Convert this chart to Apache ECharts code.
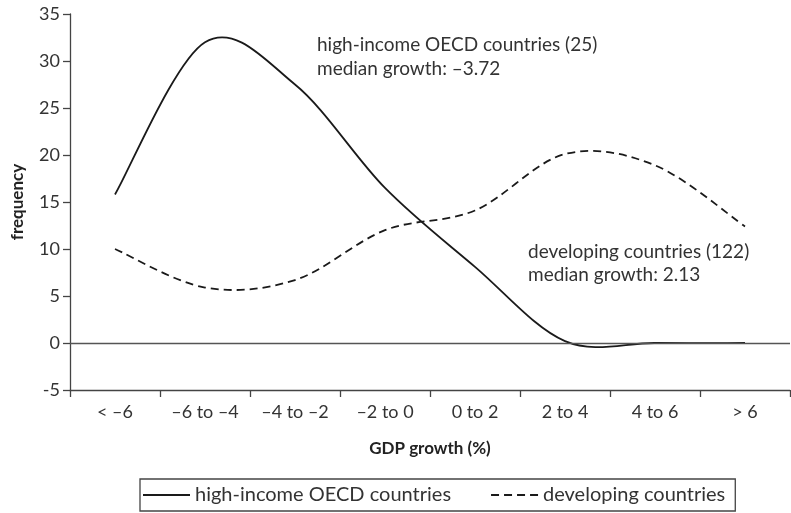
<!DOCTYPE html>
<html>
<head>
<meta charset="utf-8">
<script src="https://cdn.jsdelivr.net/npm/echarts@6/dist/echarts.min.js"></script>
<style>html,body{margin:0;padding:0;background:#fff;}#c{width:791px;height:513px;}</style>
</head>
<body>
<div id="c"></div>
<script>
var categories = ['< \u20136', '\u20136 to \u20134', '\u20134 to \u20132', '\u20132 to 0', '0 to 2', '2 to 4', '4 to 6', '> 6'];
var oecdValues = [15.8, 32.0, 27.5, 16.5, 8.1, 0.2, 0.0, 0.0];
var developingValues = [10.0, 5.9, 6.7, 12.0, 14.1, 20.1, 18.9, 12.4];
var seriesNames = ['high-income OECD countries', 'developing countries'];
var annotations = [
  ['high-income OECD countries (25)', 'median growth: \u20133.72'],
  ['developing countries (122)', 'median growth: 2.13']
];
var FONT = 'Lato';
var INK = '#1a1a1a';

function toPairs(vals) { return vals.map(function (v, i) { return [i, v]; }); }

// Smoothed line through the data points (cardinal / Catmull-Rom spline),
// positions taken from the chart's own axes via api.coord.
function smoothRenderer(dash) {
  return function (params, api) {
    if (params.dataIndexInside !== 0) return null;
    var n = params.dataInsideLength;
    var pts = [];
    for (var i = 0; i < n; i++) pts.push(api.coord([api.value(0, i), api.value(1, i)]));
    var d = 'M' + pts[0][0] + ',' + pts[0][1];
    for (i = 0; i < n - 1; i++) {
      var p0 = pts[Math.max(i - 1, 0)], p1 = pts[i], p2 = pts[i + 1], p3 = pts[Math.min(i + 2, n - 1)];
      var c1x = p1[0] + (p2[0] - p0[0]) / 6, c1y = p1[1] + (p2[1] - p0[1]) / 6;
      var c2x = p2[0] - (p3[0] - p1[0]) / 6, c2y = p2[1] - (p3[1] - p1[1]) / 6;
      d += ' C' + c1x + ',' + c1y + ' ' + c2x + ',' + c2y + ' ' + p2[0] + ',' + p2[1];
    }
    return {
      type: 'path',
      shape: {pathData: d},
      style: {fill: 'none', stroke: INK, lineWidth: 1.8, lineDash: dash}
    };
  };
}

var chart = echarts.init(document.getElementById('c'), null, {renderer: 'canvas'});
chart.setOption({
  animation: false,
  backgroundColor: '#fff',
  textStyle: {fontFamily: FONT},
  grid: {left: 70, right: 1, top: 14, bottom: 123, containLabel: false},
  xAxis: {
    type: 'category',
    data: categories,
    boundaryGap: true,
    name: 'GDP growth (%)',
    nameLocation: 'middle',
    nameGap: 50,
    nameTextStyle: {fontFamily: FONT, fontWeight: 'bold', fontSize: 17, color: '#222'},
    axisLine: {onZero: false, lineStyle: {color: '#444', width: 1.3}},
    axisTick: {show: true, length: 7, alignWithLabel: false, lineStyle: {color: '#444', width: 1.3}},
    axisLabel: {fontFamily: FONT, fontSize: 18, color: '#333', margin: 13, interval: 0}
  },
  yAxis: {
    type: 'value',
    min: -5, max: 35, interval: 5,
    name: 'frequency',
    nameLocation: 'middle',
    nameGap: 44,
    nameRotate: 90,
    nameTextStyle: {fontFamily: FONT, fontWeight: 'bold', fontSize: 17, color: '#222'},
    axisLine: {show: true, lineStyle: {color: '#444', width: 1.3}},
    axisTick: {show: true, length: 7, lineStyle: {color: '#444', width: 1.3}},
    axisLabel: {fontFamily: FONT, fontSize: 18, color: '#333', margin: 10},
    splitLine: {show: false}
  },
  legend: {
    left: 140, top: 479,
    itemWidth: 47, itemHeight: 14, itemGap: 40,
    padding: [6, 10, 6, 3],
    borderColor: '#444', borderWidth: 1.3,
    textStyle: {fontFamily: FONT, fontSize: 20, color: '#333'},
    data: [
      {name: seriesNames[0], icon: 'path://M0,0h47v2h-47z'},
      {name: seriesNames[1], icon: 'path://M0,0h8v2h-8z M13,0h8v2h-8z M26,0h8v2h-8z M39,0h8v2h-8z'}
    ]
  },
  series: [
    {
      name: seriesNames[0], type: 'custom', data: toPairs(oecdValues),
      encode: {x: 0, y: 1},
      renderItem: smoothRenderer(null),
      itemStyle: {color: INK},
      markLine: {
        silent: true, symbol: 'none', label: {show: false},
        lineStyle: {color: '#555', width: 1.3, type: 'solid'},
        data: [{yAxis: 0}]
      },
      z: 3
    },
    {
      name: seriesNames[1], type: 'custom', data: toPairs(developingValues),
      encode: {x: 0, y: 1},
      renderItem: smoothRenderer([8, 5]),
      itemStyle: {color: INK},
      z: 3
    }
  ],
  graphic: [
    {type: 'text', left: 317, top: 33, style: {text: annotations[0].join('\n'), font: '19px ' + FONT, fill: '#333', lineHeight: 24}},
    {type: 'text', left: 528, top: 240, style: {text: annotations[1].join('\n'), font: '19px ' + FONT, fill: '#333', lineHeight: 23}}
  ]
});
</script>
</body>
</html>
